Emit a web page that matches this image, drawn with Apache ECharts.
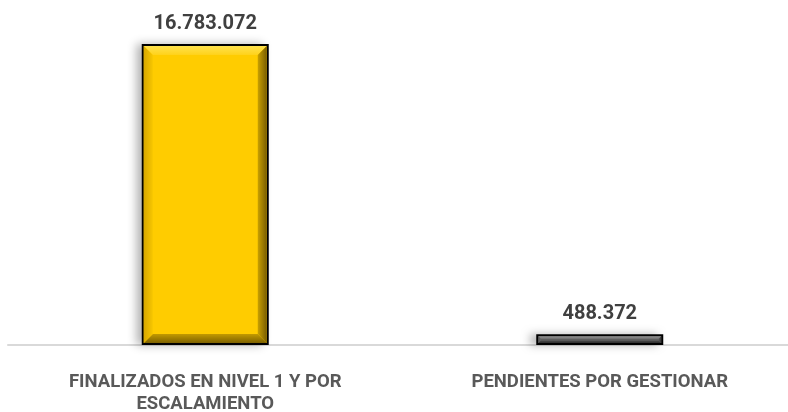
<!DOCTYPE html>
<html><head><meta charset="utf-8">
<script src="https://cdn.jsdelivr.net/npm/echarts@6/dist/echarts.min.js"></script>
<style>html,body{margin:0;padding:0;background:#fff}#c{width:788px;height:412px}</style>
</head><body><div id="c"></div>
<script>
var categories = ['FINALIZADOS EN NIVEL 1 Y POR\nESCALAMIENTO', 'PENDIENTES POR GESTIONAR'];
var values = [16783072, 488372];
var palettes = [
  {face:'#FFCC00', top:['#FFE24D','#FFD21A'], bottom:['#C29A00','#7E6200'], left:['#D8A800','#F7C600'], right:['#C9A000','#7A5E00']},
  {face:'#5E5E5E', top:['#8C8C8C','#7A7A7A'], bottom:['#4A4A4A','#2E2E2E'], left:['#555555','#666666'], right:['#555555','#333333']}
];
function fmt(v){return String(v).replace(/\B(?=(\d{3})+(?!\d))/g,'.');}
function lg(x2,y2,c){return new echarts.graphic.LinearGradient(0,0,x2,y2,[{offset:0,color:c[0]},{offset:1,color:c[1]}]);}
var chart = echarts.init(document.getElementById('c'));
chart.setOption({
  animation:false,
  grid:{left:8, width:789, top:46, bottom:67, outerBoundsMode:'none', containLabel:false},
  xAxis:{type:'category', data:categories,
    axisLine:{lineStyle:{color:'#D9D9D9', width:2}}, axisTick:{show:false},
    axisLabel:{color:'#595959', fontFamily:'Roboto', fontWeight:'bold', fontSize:18.5, lineHeight:22, margin:26}},
  yAxis:{type:'value', min:0, max:16783072, show:false, splitLine:{show:false}},
  series:[{
    type:'custom',
    data: values.map(function(v,i){return [i,v];}),
    renderItem:function(params, api){
      var i = api.value(0), v = api.value(1);
      var top = api.coord([i, v]); var base = api.coord([i, 0]);
      var w = 127; var x0 = top[0]-w/2, x1 = top[0]+w/2;
      var y0 = top[1]-2, y1 = base[1];
      var p = palettes[i];
      var b = 2;
      var ix0=x0+b, ix1=x1-b, iy0=y0+b, iy1=y1-b;
      var h = iy1-iy0;
      var bv = Math.min(9, h/2-1); if(bv<1) bv=1;
      var els = [];
      els.push({type:'rect', shape:{x:x0,y:y0,width:w,height:y1-y0},
        style:{fill:'#000', shadowBlur:9, shadowOffsetX:-6, shadowOffsetY:0, shadowColor:'rgba(0,0,0,0.3)'}});
      els.push({type:'rect', shape:{x:ix0,y:iy0,width:ix1-ix0,height:h}, style:{fill:p.face}});
      els.push({type:'polygon', shape:{points:[[ix0,iy0],[ix1,iy0],[ix1-bv,iy0+bv],[ix0+bv,iy0+bv]]}, style:{fill:lg(0,1,p.top)}});
      els.push({type:'polygon', shape:{points:[[ix0,iy1],[ix1,iy1],[ix1-bv,iy1-bv],[ix0+bv,iy1-bv]]}, style:{fill:lg(0,1,p.bottom)}});
      els.push({type:'polygon', shape:{points:[[ix0,iy0],[ix0+bv,iy0+bv],[ix0+bv,iy1-bv],[ix0,iy1]]}, style:{fill:lg(1,0,p.left)}});
      els.push({type:'polygon', shape:{points:[[ix1,iy0],[ix1-bv,iy0+bv],[ix1-bv,iy1-bv],[ix1,iy1]]}, style:{fill:lg(1,0,p.right)}});
      els.push({type:'text', style:{text:fmt(v), x:top[0], y:y0-10, textAlign:'center', textVerticalAlign:'bottom',
        fill:'#404040', font:'bold 20px Roboto'}});
      return {type:'group', children:els};
    }
  }]
});
</script></body></html>
